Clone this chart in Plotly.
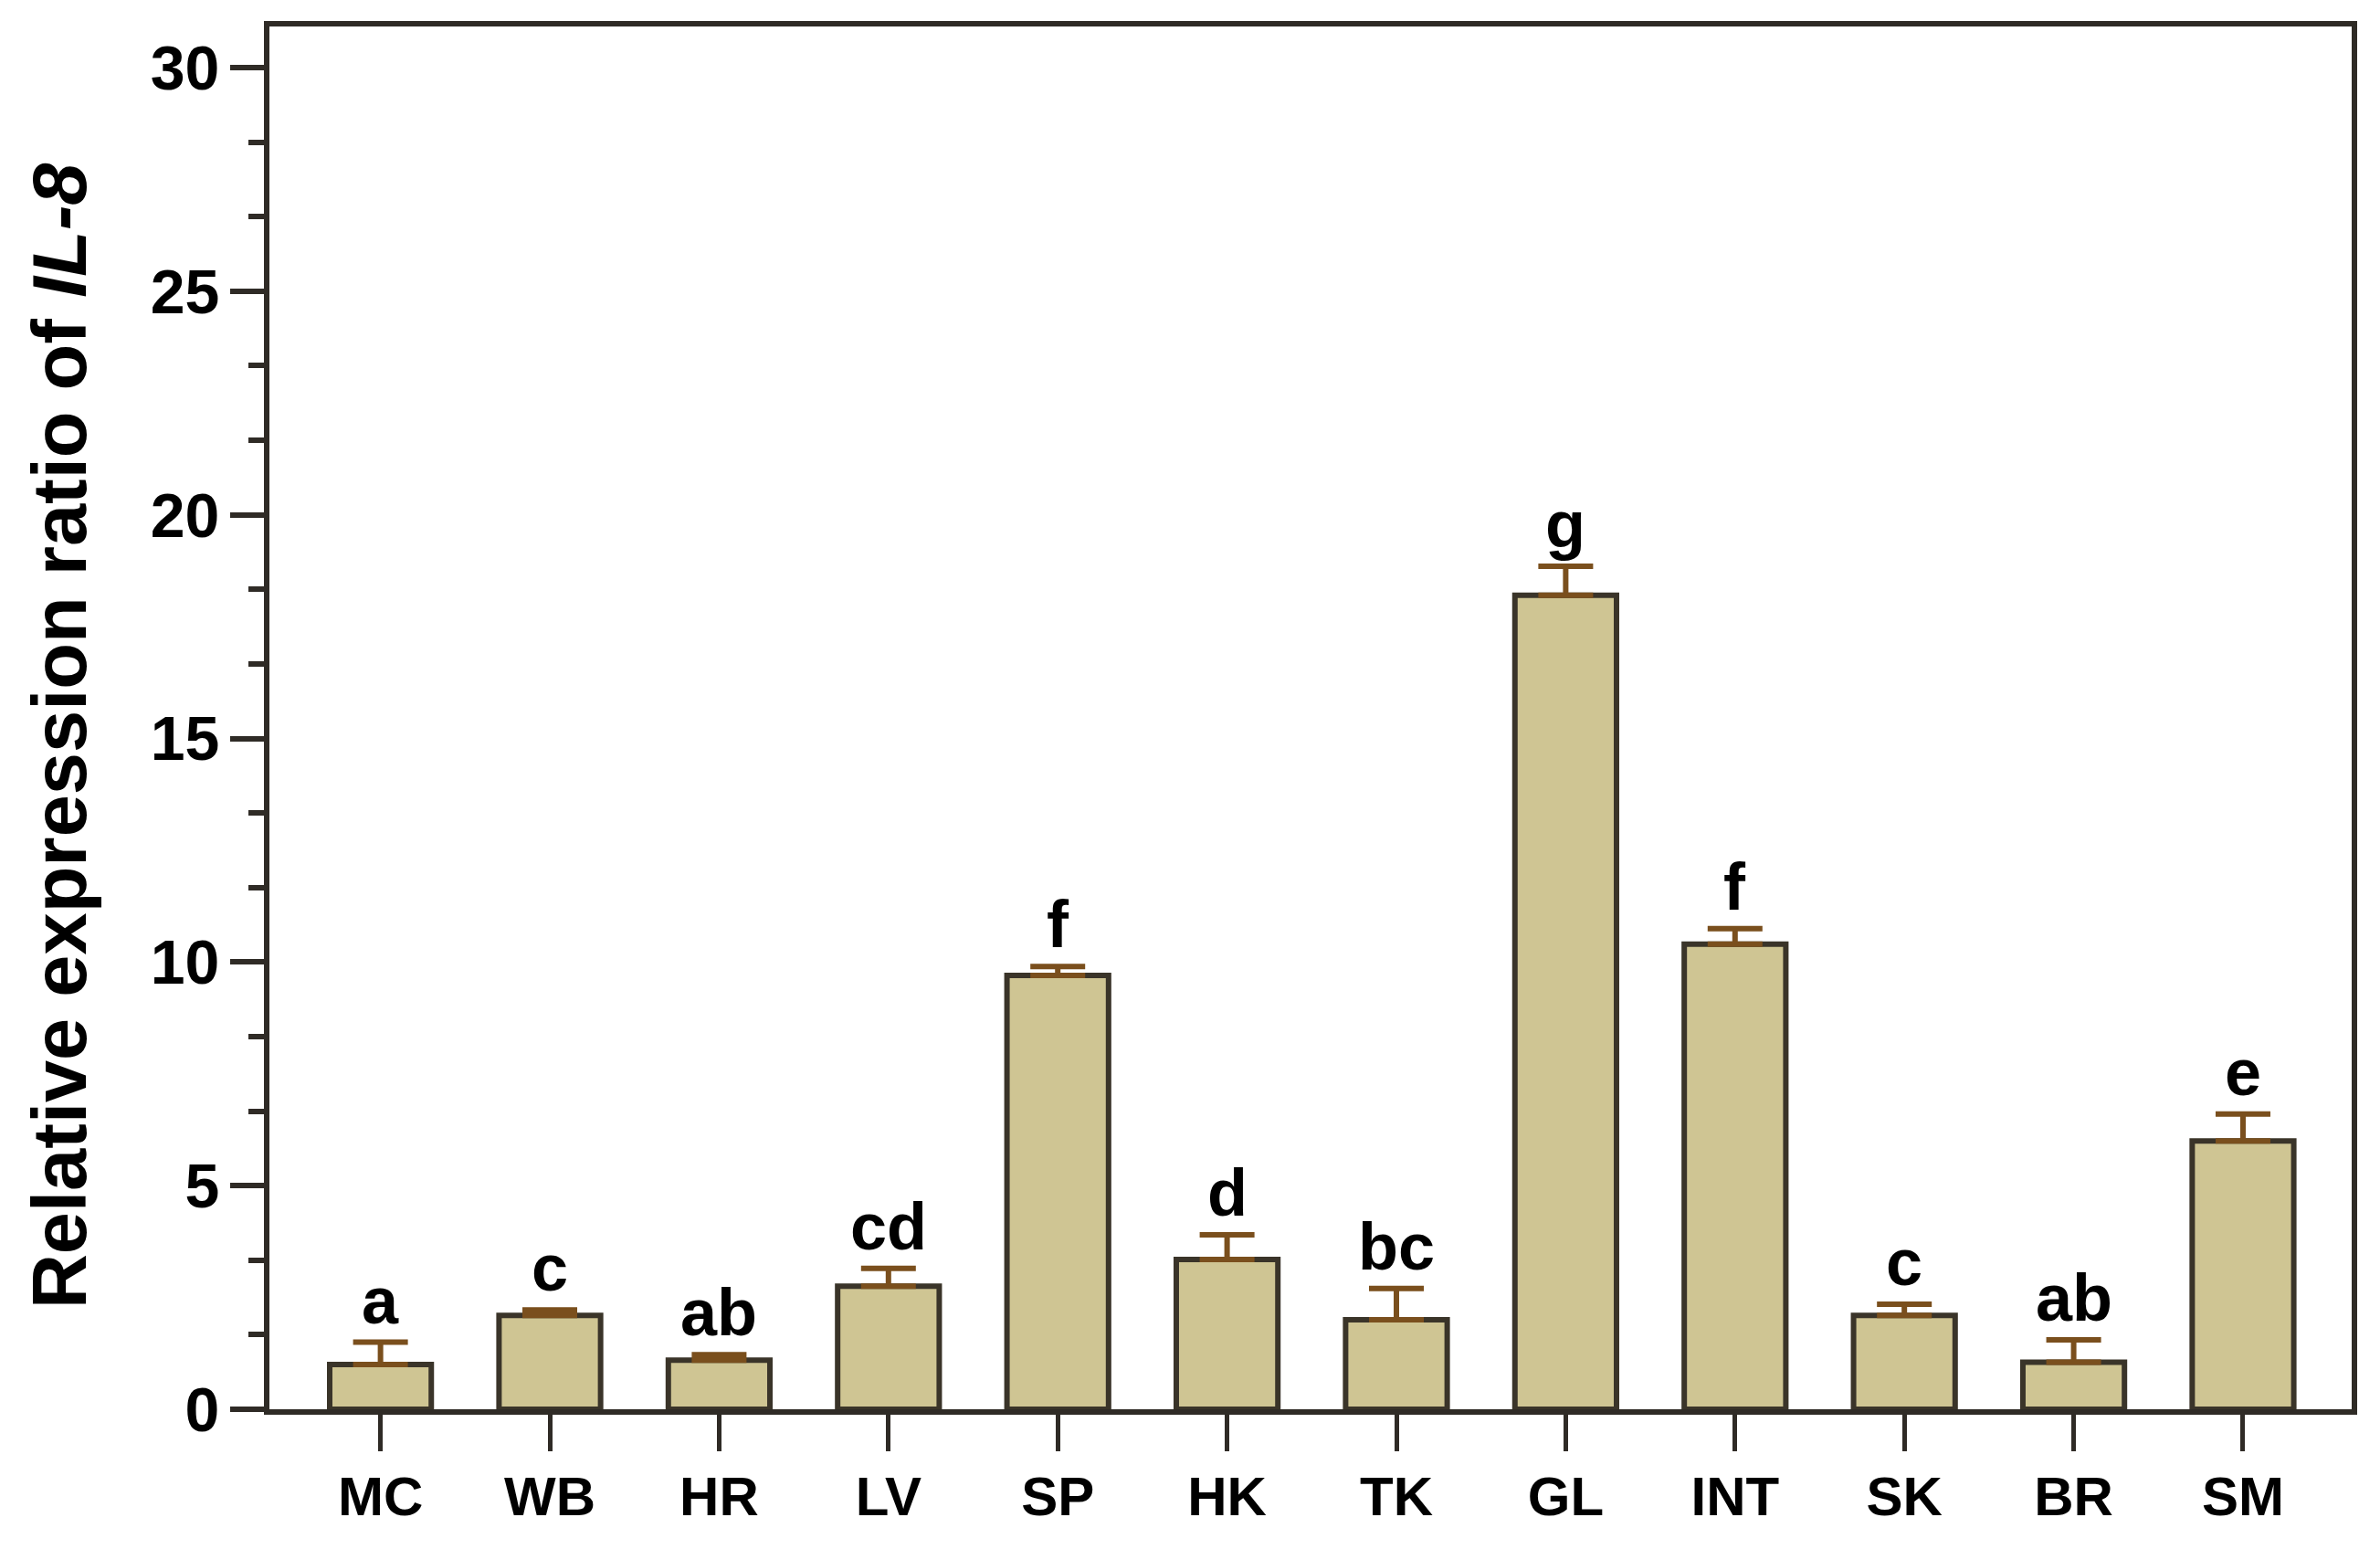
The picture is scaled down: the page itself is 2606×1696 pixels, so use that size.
import plotly.graph_objects as go

categories = ["MC", "WB", "HR", "LV", "SP", "HK", "TK", "GL", "INT", "SK", "BR", "SM"]
means = [1.0, 2.1, 1.1, 2.75, 9.7, 3.35, 2.0, 18.2, 10.4, 2.1, 1.05, 6.0]
errors = [0.5, 0.12, 0.12, 0.4, 0.2, 0.55, 0.7, 0.65, 0.35, 0.25, 0.5, 0.6]
letters = ["a", "c", "ab", "cd", "f", "d", "bc", "g", "f", "c", "ab", "e"]
y_ticks = [0, 5, 10, 15, 20, 25, 30]

FONT = "Arial, 'Liberation Sans', sans-serif"
AXIS_COLOR = "#2f2b26"

fig = go.Figure()
fig.add_trace(go.Bar(
    x=list(range(len(categories))),
    y=means,
    width=0.6,
    marker=dict(color="#cfc593", line=dict(color="#3a3429", width=6)),
    error_y=dict(type="data", array=errors, symmetric=False, arrayminus=[0]*len(errors),
                 color="#7a4f1d", thickness=6, width=30),
))

for i, (m, e, t) in enumerate(zip(means, errors, letters)):
    fig.add_annotation(x=i, y=m + e, text=f"<b>{t}</b>", showarrow=False,
                       yanchor="bottom", xanchor="center", yshift=4,
                       font=dict(family=FONT, size=72, color="black"))

# y-axis title as rotated annotation
fig.add_annotation(xref="paper", yref="paper", x=-0.1004, y=0.4868,
                   text="<b>Relative expression ratio of <i>IL-8</i></b>",
                   textangle=-90, showarrow=False, xanchor="center", yanchor="middle",
                   font=dict(family=FONT, size=83, color="black"))

fig.update_layout(
    width=2606, height=1696,
    margin=dict(l=287, r=39, t=21, b=161),
    paper_bgcolor="white", plot_bgcolor="white",
    showlegend=False,
)

fig.update_xaxes(
    range=[-0.656, 11.642],
    tickmode="array", tickvals=list(range(len(categories))),
    ticktext=[f"<b>{c}</b>" for c in categories],
    tickfont=dict(family=FONT, size=60, color="black"),
    ticks="outside", ticklen=40, tickwidth=5, tickcolor=AXIS_COLOR,
    ticklabelstandoff=-2,
    showline=True, linewidth=6, linecolor=AXIS_COLOR, mirror=True,
    showgrid=False, zeroline=False,
)

fig.update_yaxes(
    range=[0, 30.92],
    tickmode="array", tickvals=y_ticks,
    ticktext=[f"<b>{v}</b>" for v in y_ticks],
    tickfont=dict(family=FONT, size=68, color="black"),
    ticks="outside", ticklen=37, tickwidth=6, tickcolor=AXIS_COLOR,
    ticklabelstandoff=-2,
    minor=dict(dtick=5/3, tick0=0, ticks="outside", ticklen=17, tickwidth=6, tickcolor=AXIS_COLOR),
    showline=True, linewidth=6, linecolor=AXIS_COLOR, mirror=True,
    showgrid=False, zeroline=False,
)

fig.write_html("out.html")
